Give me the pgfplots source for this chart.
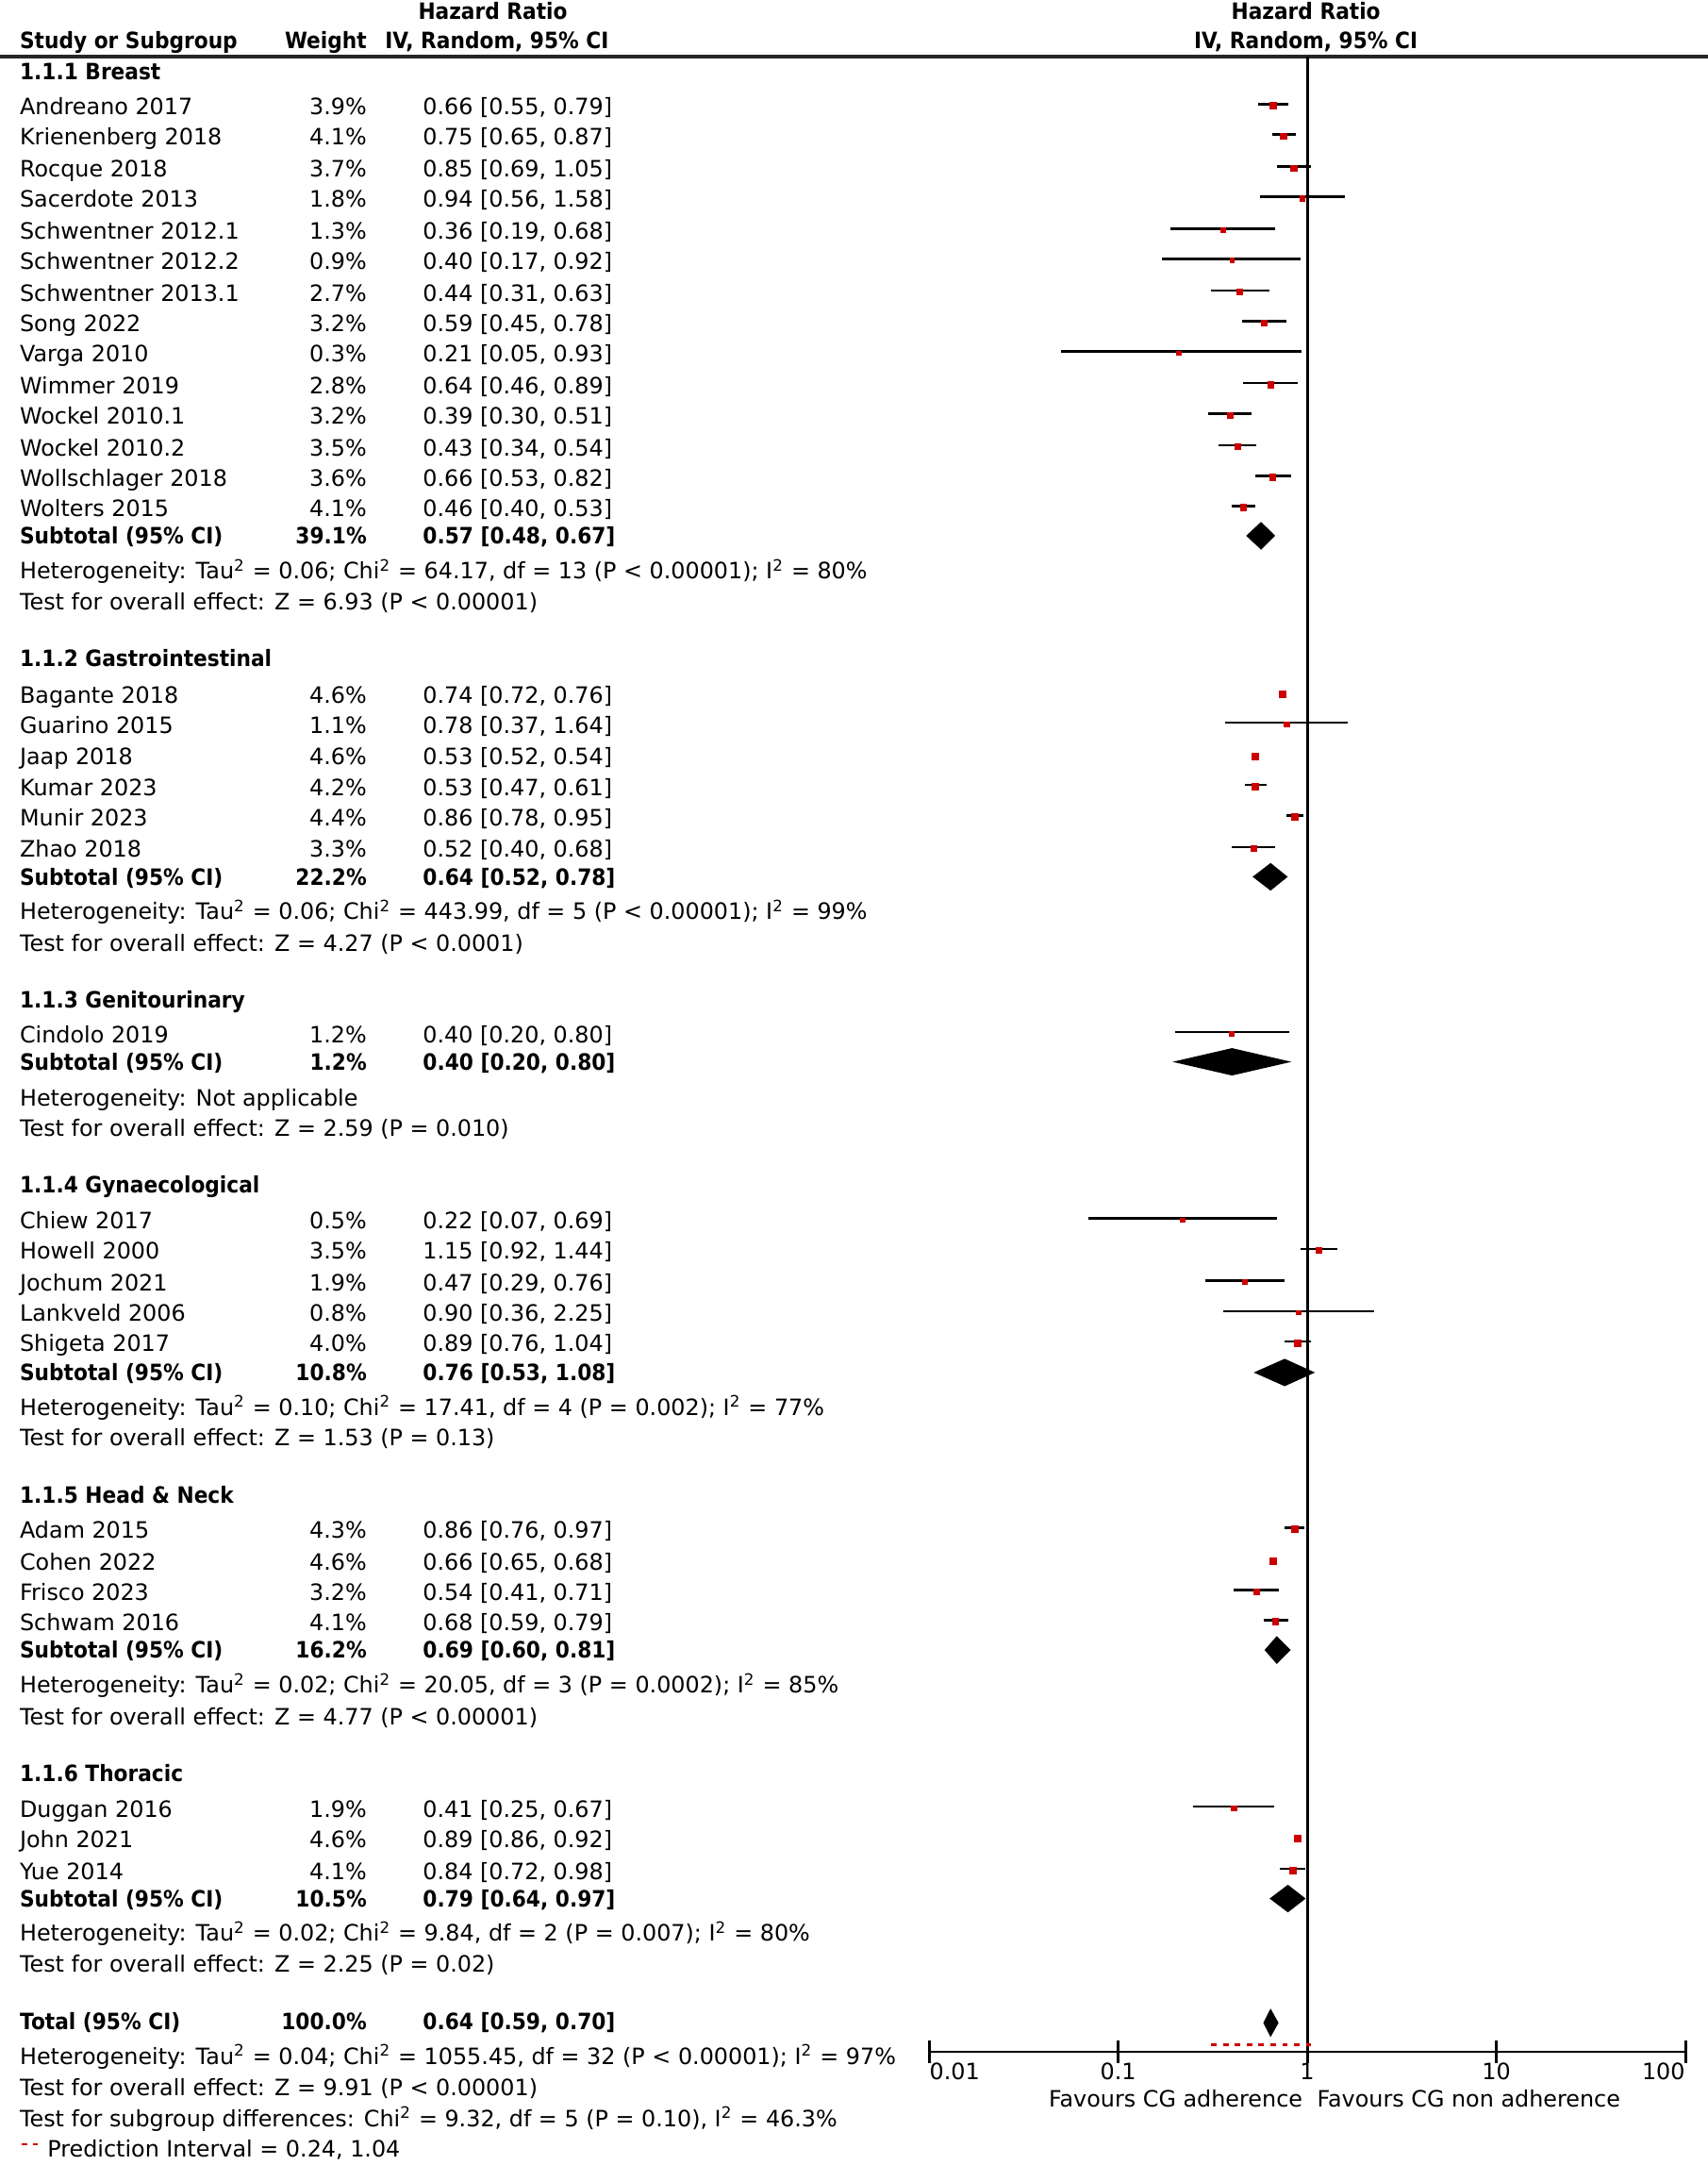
\documentclass[border=0pt]{standalone}
\usepackage{pgfplots}
\pgfplotsset{compat=1.18}
\usepackage{pgfplotstable}
\usepackage{fontspec}
\setmainfont{DejaVu Sans}[BoldFeatures={FakeStretch=0.91}]
\definecolor{mred}{HTML}{CC0000}

% study estimates: hazard ratio, CI, weight (%), row position
\pgfplotstableread{
hr   lo   hi   w   y
0.66 0.55 0.79 3.9 75.5
0.75 0.65 0.87 4.1 97.5
0.85 0.69 1.05 3.7 120.5
0.94 0.56 1.58 1.8 142.5
0.36 0.19 0.68 1.3 165.5
0.40 0.17 0.92 0.9 187.5
0.44 0.31 0.63 2.7 210.5
0.59 0.45 0.78 3.2 232.5
0.21 0.05 0.93 0.3 254.5
0.64 0.46 0.89 2.8 277.5
0.39 0.30 0.51 3.2 299.5
0.43 0.34 0.54 3.5 322.5
0.66 0.53 0.82 3.6 344.5
0.46 0.40 0.53 4.1 366.5
0.74 0.72 0.76 4.6 501.5
0.78 0.37 1.64 1.1 523.5
0.53 0.52 0.54 4.6 546.5
0.53 0.47 0.61 4.2 568.5
0.86 0.78 0.95 4.4 590.5
0.52 0.40 0.68 3.3 613.5
0.40 0.20 0.80 1.2 747.5
0.22 0.07 0.69 0.5 882.5
1.15 0.92 1.44 3.5 904.5
0.47 0.29 0.76 1.9 927.5
0.90 0.36 2.25 0.8 949.5
0.89 0.76 1.04 4.0 971.5
0.86 0.76 0.97 4.3 1106.5
0.66 0.65 0.68 4.6 1129.5
0.54 0.41 0.71 3.2 1151.5
0.68 0.59 0.79 4.1 1173.5
0.41 0.25 0.67 1.9 1308.5
0.89 0.86 0.92 4.6 1330.5
0.84 0.72 0.98 4.1 1353.5
}\studies

\newcommand\fs{\fontsize{8.15}{9.8}\selectfont}
\newcommand\sq{\textsuperscript{2}}
\tikzset{
  lt/.style={anchor=base west, inner sep=0pt, yshift=-3pt, font=\fs},
  rt/.style={anchor=base east, inner sep=0pt, yshift=-3pt, font=\fs},
  ct/.style={anchor=base, inner sep=0pt, yshift=-3pt, font=\fs},
  lb/.style={lt, font=\fs\bfseries},
  rb/.style={rt, font=\fs\bfseries},
  cb/.style={ct, font=\fs\bfseries},
}
\newcommand\study[4]{\node[lt] at (14,#1) {#2}; \node[rt] at (266,#1) {#3}; \node[lt] at (306,#1) {#4};}
\newcommand\subt[4]{\node[lb] at (14,#1) {#2}; \node[rb] at (266,#1) {#3}; \node[lb] at (306,#1) {#4};}
\newcommand\txt[2]{\node[lt] at (14,#1) {#2};}
\newcommand\grp[2]{\node[lb] at (14,#1) {#2};}

\begin{document}
\begin{tikzpicture}
\begin{scope}[x=0.5pt,y=-0.5pt]
\path[use as bounding box] (0,0) rectangle (1237,1568);

% headers
\node[cb] at (357,8) {Hazard Ratio};
\node[lb] at (14,29) {Study or Subgroup};
\node[rb] at (266,29) {Weight};
\node[cb] at (360,29) {IV, Random, 95\% CI};
\node[cb] at (946,8) {Hazard Ratio};
\node[cb] at (946,29) {IV, Random, 95\% CI};
\draw[line width=1.3pt, black!85] (0,41) -- (1237,41);

% Breast
\grp{52}{1.1.1 Breast}
\study{77}{Andreano 2017}{3.9\%}{0.66 [0.55, 0.79]}
\study{99}{Krienenberg 2018}{4.1\%}{0.75 [0.65, 0.87]}
\study{122}{Rocque 2018}{3.7\%}{0.85 [0.69, 1.05]}
\study{144}{Sacerdote 2013}{1.8\%}{0.94 [0.56, 1.58]}
\study{167}{Schwentner 2012.1}{1.3\%}{0.36 [0.19, 0.68]}
\study{189}{Schwentner 2012.2}{0.9\%}{0.40 [0.17, 0.92]}
\study{212}{Schwentner 2013.1}{2.7\%}{0.44 [0.31, 0.63]}
\study{234}{Song 2022}{3.2\%}{0.59 [0.45, 0.78]}
\study{256}{Varga 2010}{0.3\%}{0.21 [0.05, 0.93]}
\study{279}{Wimmer 2019}{2.8\%}{0.64 [0.46, 0.89]}
\study{301}{Wockel 2010.1}{3.2\%}{0.39 [0.30, 0.51]}
\study{324}{Wockel 2010.2}{3.5\%}{0.43 [0.34, 0.54]}
\study{346}{Wollschlager 2018}{3.6\%}{0.66 [0.53, 0.82]}
\study{368}{Wolters 2015}{4.1\%}{0.46 [0.40, 0.53]}
\subt{388}{Subtotal (95\% CI)}{39.1\%}{0.57 [0.48, 0.67]}
\txt{413}{Heterogeneity: Tau\sq{} = 0.06; Chi\sq{} = 64.17, df = 13 (P < 0.00001); I\sq{} = 80\%}
\txt{436}{Test for overall effect: Z = 6.93 (P < 0.00001)}

% GI
\grp{477}{1.1.2 Gastrointestinal}
\study{503}{Bagante 2018}{4.6\%}{0.74 [0.72, 0.76]}
\study{525}{Guarino 2015}{1.1\%}{0.78 [0.37, 1.64]}
\study{548}{Jaap 2018}{4.6\%}{0.53 [0.52, 0.54]}
\study{570}{Kumar 2023}{4.2\%}{0.53 [0.47, 0.61]}
\study{592}{Munir 2023}{4.4\%}{0.86 [0.78, 0.95]}
\study{615}{Zhao 2018}{3.3\%}{0.52 [0.40, 0.68]}
\subt{635}{Subtotal (95\% CI)}{22.2\%}{0.64 [0.52, 0.78]}
\txt{660}{Heterogeneity: Tau\sq{} = 0.06; Chi\sq{} = 443.99, df = 5 (P < 0.00001); I\sq{} = 99\%}
\txt{683}{Test for overall effect: Z = 4.27 (P < 0.0001)}

% GU
\grp{724}{1.1.3 Genitourinary}
\study{749}{Cindolo 2019}{1.2\%}{0.40 [0.20, 0.80]}
\subt{769}{Subtotal (95\% CI)}{1.2\%}{0.40 [0.20, 0.80]}
\txt{795}{Heterogeneity: Not applicable}
\txt{817}{Test for overall effect: Z = 2.59 (P = 0.010)}

% Gyn
\grp{858}{1.1.4 Gynaecological}
\study{884}{Chiew 2017}{0.5\%}{0.22 [0.07, 0.69]}
\study{906}{Howell 2000}{3.5\%}{1.15 [0.92, 1.44]}
\study{929}{Jochum 2021}{1.9\%}{0.47 [0.29, 0.76]}
\study{951}{Lankveld 2006}{0.8\%}{0.90 [0.36, 2.25]}
\study{973}{Shigeta 2017}{4.0\%}{0.89 [0.76, 1.04]}
\subt{994}{Subtotal (95\% CI)}{10.8\%}{0.76 [0.53, 1.08]}
\txt{1019}{Heterogeneity: Tau\sq{} = 0.10; Chi\sq{} = 17.41, df = 4 (P = 0.002); I\sq{} = 77\%}
\txt{1041}{Test for overall effect: Z = 1.53 (P = 0.13)}

% H&N
\grp{1083}{1.1.5 Head \& Neck}
\study{1108}{Adam 2015}{4.3\%}{0.86 [0.76, 0.97]}
\study{1131}{Cohen 2022}{4.6\%}{0.66 [0.65, 0.68]}
\study{1153}{Frisco 2023}{3.2\%}{0.54 [0.41, 0.71]}
\study{1175}{Schwam 2016}{4.1\%}{0.68 [0.59, 0.79]}
\subt{1195}{Subtotal (95\% CI)}{16.2\%}{0.69 [0.60, 0.81]}
\txt{1220}{Heterogeneity: Tau\sq{} = 0.02; Chi\sq{} = 20.05, df = 3 (P = 0.0002); I\sq{} = 85\%}
\txt{1243}{Test for overall effect: Z = 4.77 (P < 0.00001)}

% Thoracic
\grp{1284}{1.1.6 Thoracic}
\study{1310}{Duggan 2016}{1.9\%}{0.41 [0.25, 0.67]}
\study{1332}{John 2021}{4.6\%}{0.89 [0.86, 0.92]}
\study{1355}{Yue 2014}{4.1\%}{0.84 [0.72, 0.98]}
\subt{1375}{Subtotal (95\% CI)}{10.5\%}{0.79 [0.64, 0.97]}
\txt{1400}{Heterogeneity: Tau\sq{} = 0.02; Chi\sq{} = 9.84, df = 2 (P = 0.007); I\sq{} = 80\%}
\txt{1422}{Test for overall effect: Z = 2.25 (P = 0.02)}

% Total
\subt{1464}{Total (95\% CI)}{100.0\%}{0.64 [0.59, 0.70]}
\txt{1489}{Heterogeneity: Tau\sq{} = 0.04; Chi\sq{} = 1055.45, df = 32 (P < 0.00001); I\sq{} = 97\%}
\txt{1512}{Test for overall effect: Z = 9.91 (P < 0.00001)}
\txt{1534}{Test for subgroup differences: Chi\sq{} = 9.32, df = 5 (P = 0.10), I\sq{} = 46.3\%}
\draw[mred, line width=0.8pt, dash pattern=on 2pt off 1.8pt] (16,1553) -- (31,1553);
\node[lt] at (34,1556) {Prediction Interval = 0.24, 1.04};
\end{scope}

\begin{axis}[
  at={(336.5pt,-743pt)}, anchor=south west,
  scale only axis, width=274pt, height=722.5pt,
  xmode=log, xmin=0.01, xmax=100,
  ymin=41, ymax=1486, y dir=reverse,
  hide y axis, axis x line*=bottom,
  x axis line style={line width=1pt, -},
  xtick={0.01,0.1,1,10,100}, xticklabels={},
  xminorticks=false,
  tick align=center, major tick length=8pt,
  xtick style={line width=1pt, black},
  clip=false,
  mk/.style={only marks, mark=square*, color=mred, mark options={draw=mred, fill=mred}},
]
\addplot[black, line width=1pt] coordinates {(1,41) (1,1486)};
% confidence intervals (error bars only, no line and no marks)
\addplot[draw=none, mark=none,
  error bars/.cd, x dir=both, x explicit, error mark=none,
  error bar style={draw=black, line width=0.85pt}]
  table[x=hr, y=y,
    x error plus expr=\thisrow{hi}-\thisrow{hr},
    x error minus expr=\thisrow{hr}-\thisrow{lo}] {\studies};
% study markers, sized by weight class
\addplot[mk, mark size=0.75pt, restrict expr to domain={\thisrow{w}}{0:1}]
  table[x=hr, y expr=\thisrow{y}+1.2] {\studies};
\addplot[mk, mark size=0.88pt, restrict expr to domain={\thisrow{w}}{1.01:2.5}]
  table[x=hr, y expr=\thisrow{y}+1.2] {\studies};
\addplot[mk, mark size=1.02pt, restrict expr to domain={\thisrow{w}}{2.51:3.75}]
  table[x=hr, y expr=\thisrow{y}+1.2] {\studies};
\addplot[mk, mark size=1.15pt, restrict expr to domain={\thisrow{w}}{3.76:10}]
  table[x=hr, y expr=\thisrow{y}+1.2] {\studies};
% subtotal diamonds
\addplot[fill=black, draw=black] coordinates {(0.48,388) (0.57,378.5) (0.67,388) (0.57,397.5)} -- cycle;
\addplot[fill=black, draw=black] coordinates {(0.52,635) (0.64,625.5) (0.78,635) (0.64,644.5)} -- cycle;
\addplot[fill=black, draw=black] coordinates {(0.20,769) (0.40,759.5) (0.80,769) (0.40,778.5)} -- cycle;
\addplot[fill=black, draw=black] coordinates {(0.53,994) (0.76,984.5) (1.08,994) (0.76,1003.5)} -- cycle;
\addplot[fill=black, draw=black] coordinates {(0.60,1195) (0.69,1185.5) (0.81,1195) (0.69,1204.5)} -- cycle;
\addplot[fill=black, draw=black] coordinates {(0.64,1375) (0.79,1365.5) (0.97,1375) (0.79,1384.5)} -- cycle;
\addplot[fill=black, draw=black] coordinates {(0.59,1465) (0.64,1455.5) (0.70,1465) (0.64,1474.5)} -- cycle;
% prediction interval
\addplot[mred, line width=0.9pt, dash pattern=on 2pt off 2.3pt] coordinates {(0.31,1481) (1.04,1481)};
% tick labels and direction labels
\node[font=\fs, anchor=base west, inner sep=0pt] at (axis cs:0.01,1506) {0.01};
\node[font=\fs, anchor=base, inner sep=0pt] at (axis cs:0.1,1506) {0.1};
\node[font=\fs, anchor=base, inner sep=0pt] at (axis cs:1,1506) {1};
\node[font=\fs, anchor=base, inner sep=0pt] at (axis cs:10,1506) {10};
\node[font=\fs, anchor=base east, inner sep=0pt] at (axis cs:100,1506) {100};
\node[font=\fs, anchor=base east, inner sep=0pt] at (axis cs:0.95,1526) {Favours CG adherence};
\node[font=\fs, anchor=base west, inner sep=0pt] at (axis cs:1.12,1526) {Favours CG non adherence};
\end{axis}
\end{tikzpicture}
\end{document}
